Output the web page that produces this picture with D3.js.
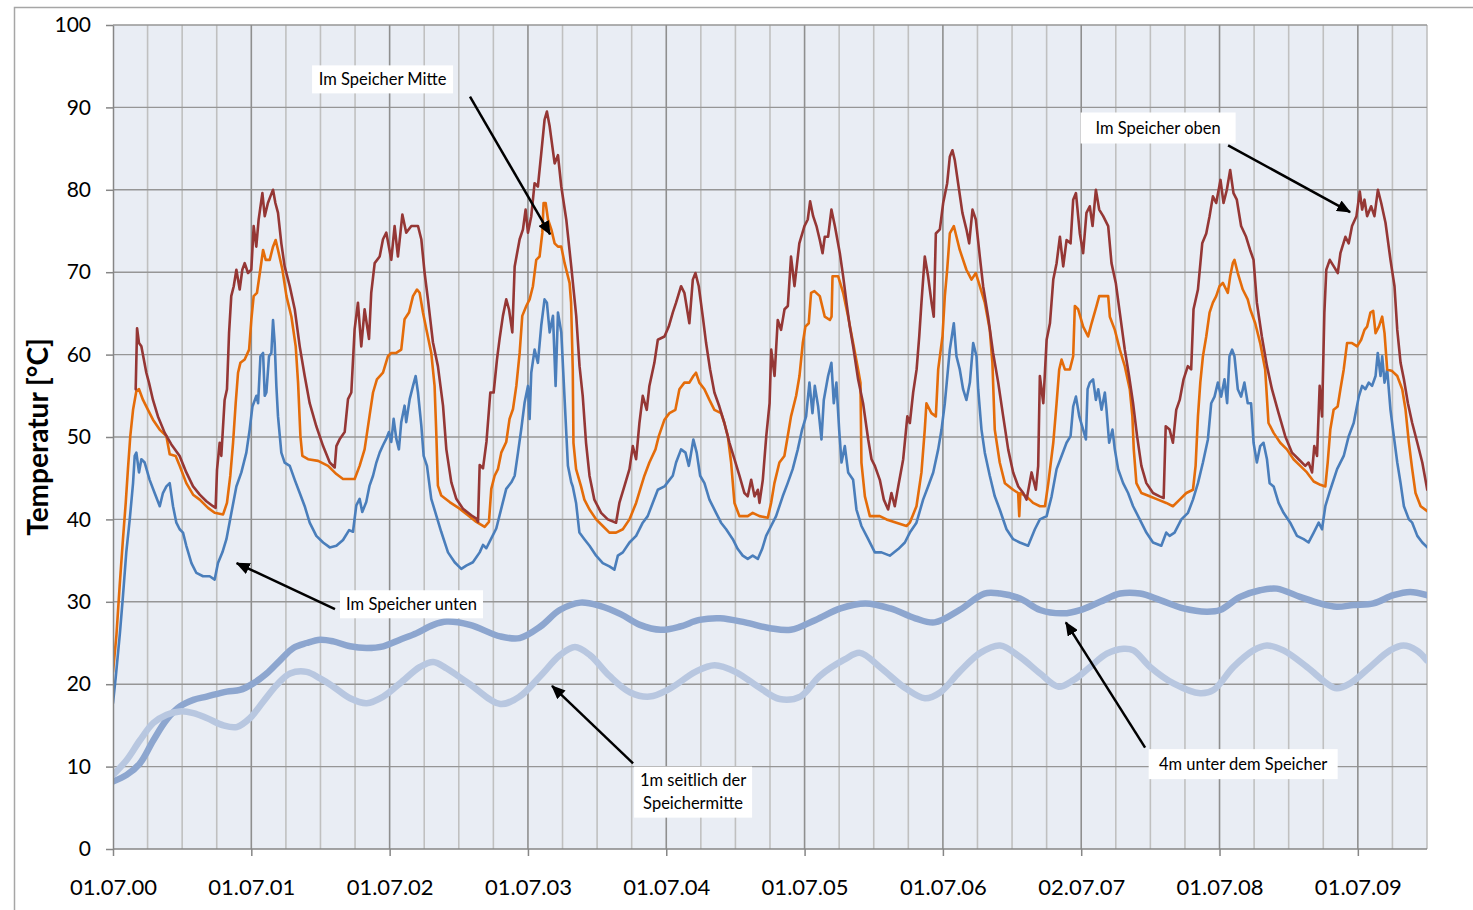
<!DOCTYPE html>
<meta charset="utf-8">

<style>

body {
  margin: 0;
  background: #fff;
}

text {
  font-family: Lato, "Open Sans", sans-serif;
  fill: #000;
}

.frame {
  fill: none;
  stroke: #a6a6a6;
  stroke-width: 1.5px;
}

.plotbg {
  fill: #e9edf4;
}

.grid-q {
  stroke: #c0c0c0;
  stroke-width: 1.6px;
}

.grid-y {
  stroke: #8f8f8f;
  stroke-width: 1.6px;
}

.grid-h {
  stroke: #969696;
  stroke-width: 1.4px;
}

.axis path, .axis line {
  stroke: #868686;
  stroke-width: 1.5px;
}

.axis text {
  font-size: 21px;
}

.axis.x text {
  font-size: 22px;
}

.series {
  fill: none;
  stroke-linejoin: round;
  stroke-linecap: round;
}

.note rect {
  fill: #fff;
}

.note text {
  font-size: 16.5px;
}

.arrow {
  stroke: #000;
  stroke-width: 2.5px;
}

</style>

<body>

<svg id="chart" width="1473" height="910"></svg>

<script src="https://cdn.jsdelivr.net/npm/d3@7"></script>
<script>

// x in Jahren ab 01.07.2000, y in °C
const yearTicks = [0, 1, 2, 3, 4, 5, 6, 7, 8, 9]
const yearLabels = ["01.07.00", "01.07.01", "01.07.02", "01.07.03", "01.07.04",
                    "01.07.05", "01.07.06", "02.07.07", "01.07.08", "01.07.09"]
const tempTicks = [0, 10, 20, 30, 40, 50, 60, 70, 80, 90, 100]

const speicherOben = [[0.164,55.8],[0.174,63.2],[0.188,61.4],[0.205,61.0],[0.241,57.8],[0.26,56.6],[0.289,54.5],[0.325,52.5],[0.374,50.5],[0.422,49.1],[0.482,47.7],[0.53,45.7],[0.579,44.0],[0.627,43.0],[0.675,42.2],[0.723,41.6],[0.742,41.4],[0.752,46.0],[0.771,49.3],[0.783,47.7],[0.807,54.5],[0.824,55.8],[0.839,62.6],[0.855,67.1],[0.873,68.3],[0.892,70.3],[0.916,67.9],[0.935,70.3],[0.952,71.1],[0.976,69.9],[1.0,70.3],[1.017,75.6],[1.036,73.1],[1.053,76.4],[1.08,79.6],[1.097,76.8],[1.12,78.4],[1.138,79.2],[1.157,80.0],[1.174,78.4],[1.193,77.2],[1.217,73.5],[1.241,70.7],[1.278,68.3],[1.314,65.5],[1.35,61.0],[1.386,57.4],[1.422,54.1],[1.47,51.3],[1.519,48.9],[1.567,46.9],[1.603,46.3],[1.615,48.9],[1.641,49.8],[1.675,50.6],[1.699,54.6],[1.723,55.4],[1.747,63.1],[1.771,66.3],[1.795,61.0],[1.819,65.5],[1.851,61.9],[1.867,67.5],[1.892,71.1],[1.928,71.9],[1.952,74.0],[1.976,74.8],[2.012,71.5],[2.036,75.6],[2.06,71.9],[2.092,77.0],[2.12,74.8],[2.157,75.6],[2.205,75.6],[2.229,74.0],[2.253,69.9],[2.277,66.7],[2.313,61.5],[2.349,58.6],[2.386,53.8],[2.41,48.5],[2.446,44.5],[2.482,42.5],[2.53,41.3],[2.59,40.5],[2.627,40.1],[2.639,39.7],[2.651,46.6],[2.675,46.2],[2.7,49.4],[2.728,55.4],[2.752,55.4],[2.776,59.4],[2.795,61.9],[2.819,64.7],[2.843,66.7],[2.863,65.5],[2.887,62.7],[2.904,70.7],[2.94,74.0],[2.964,75.2],[2.983,77.6],[3.0,74.8],[3.024,76.8],[3.048,80.8],[3.072,80.4],[3.096,84.4],[3.12,88.5],[3.137,89.5],[3.157,87.7],[3.193,83.2],[3.217,84.2],[3.241,80.4],[3.277,76.4],[3.313,70.7],[3.349,64.7],[3.373,58.6],[3.396,55.0],[3.42,49.3],[3.445,45.3],[3.48,42.4],[3.529,40.8],[3.577,40.0],[3.637,39.6],[3.661,42.0],[3.697,44.0],[3.734,46.1],[3.758,48.9],[3.782,47.3],[3.806,51.7],[3.83,55.0],[3.859,53.3],[3.878,56.2],[3.914,59.0],[3.939,61.8],[3.987,62.2],[4.018,63.4],[4.047,65.1],[4.071,66.3],[4.107,68.3],[4.131,67.5],[4.167,63.8],[4.192,69.1],[4.211,69.9],[4.235,68.3],[4.264,64.6],[4.288,61.4],[4.317,58.2],[4.348,55.4],[4.384,53.7],[4.42,51.7],[4.457,49.3],[4.493,47.3],[4.529,45.3],[4.565,43.2],[4.589,42.8],[4.614,44.8],[4.638,42.8],[4.662,43.6],[4.674,42.0],[4.698,44.8],[4.723,50.1],[4.747,54.1],[4.759,60.6],[4.783,57.4],[4.806,64.2],[4.83,63.0],[4.855,65.5],[4.879,65.9],[4.902,71.9],[4.927,68.3],[4.962,73.5],[4.999,75.6],[5.023,76.4],[5.04,78.6],[5.062,76.8],[5.086,75.6],[5.11,73.9],[5.13,72.3],[5.146,74.3],[5.17,74.3],[5.194,77.6],[5.219,75.6],[5.255,72.3],[5.279,69.5],[5.303,66.3],[5.327,63.4],[5.351,61.0],[5.387,57.0],[5.423,54.1],[5.46,49.7],[5.484,47.3],[5.508,46.5],[5.544,44.8],[5.573,42.4],[5.604,41.2],[5.628,43.2],[5.652,41.6],[5.677,44.0],[5.713,47.3],[5.743,52.5],[5.761,51.7],[5.785,55.4],[5.81,58.2],[5.829,62.2],[5.845,66.3],[5.869,71.9],[5.893,69.5],[5.918,66.3],[5.934,64.6],[5.949,74.7],[5.978,75.2],[6.002,78.4],[6.031,80.8],[6.05,84.0],[6.069,84.8],[6.086,83.6],[6.11,80.8],[6.141,77.2],[6.17,75.2],[6.19,73.5],[6.214,77.6],[6.238,76.4],[6.267,71.9],[6.291,68.3],[6.327,64.6],[6.363,60.2],[6.4,56.6],[6.436,52.5],[6.472,48.5],[6.508,45.7],[6.545,44.0],[6.581,43.2],[6.605,42.4],[6.641,45.7],[6.672,43.6],[6.689,46.5],[6.701,57.4],[6.726,54.1],[6.75,61.8],[6.774,63.8],[6.798,69.1],[6.822,71.1],[6.846,74.3],[6.87,70.7],[6.894,73.9],[6.923,73.5],[6.942,78.8],[6.962,79.6],[6.99,74.7],[7.014,72.3],[7.038,77.2],[7.062,78.0],[7.082,75.6],[7.106,80.0],[7.13,77.6],[7.159,76.8],[7.195,75.6],[7.219,71.1],[7.25,68.7],[7.279,65.1],[7.315,60.6],[7.346,57.4],[7.375,54.1],[7.404,50.1],[7.435,46.5],[7.471,44.4],[7.519,43.2],[7.567,42.8],[7.596,42.6],[7.611,51.3],[7.639,50.9],[7.663,49.3],[7.687,53.3],[7.712,54.5],[7.74,57.0],[7.771,58.6],[7.795,58.2],[7.812,65.5],[7.844,67.9],[7.875,73.5],[7.904,74.7],[7.928,76.8],[7.952,79.2],[7.976,78.4],[8.007,81.2],[8.029,78.4],[8.053,80.0],[8.077,82.4],[8.101,79.6],[8.125,78.8],[8.156,75.6],[8.192,74.3],[8.221,72.7],[8.246,71.5],[8.27,66.3],[8.306,62.2],[8.343,58.6],[8.379,55.8],[8.427,52.9],[8.475,50.1],[8.524,48.1],[8.572,47.3],[8.62,46.5],[8.644,46.9],[8.669,45.7],[8.685,48.9],[8.705,47.7],[8.724,56.2],[8.741,52.5],[8.758,65.1],[8.772,70.3],[8.797,71.5],[8.826,70.7],[8.855,69.9],[8.874,72.3],[8.91,74.3],[8.934,73.5],[8.958,75.6],[8.99,76.8],[9.014,79.8],[9.031,77.6],[9.048,78.8],[9.067,76.8],[9.096,78.0],[9.12,76.8],[9.145,80.0],[9.169,78.4],[9.2,76.0],[9.236,71.5],[9.265,68.3],[9.285,63.0],[9.309,59.0],[9.333,57.0],[9.362,54.1],[9.393,51.7],[9.43,49.3],[9.466,46.9],[9.502,43.6]]

const speicherMitte = [[0.0,21.5],[0.025,26.0],[0.048,31.9],[0.072,37.6],[0.092,42.0],[0.108,46.1],[0.125,50.1],[0.145,53.3],[0.169,55.6],[0.188,55.8],[0.217,54.5],[0.253,53.3],[0.289,52.1],[0.337,50.9],[0.386,50.1],[0.41,47.9],[0.453,47.7],[0.482,46.5],[0.53,44.4],[0.579,43.0],[0.627,42.4],[0.687,41.4],[0.735,40.8],[0.796,40.6],[0.824,42.0],[0.848,45.3],[0.868,49.3],[0.887,54.1],[0.904,57.8],[0.921,59.0],[0.952,59.4],[0.984,60.6],[1.0,64.2],[1.017,67.1],[1.041,67.5],[1.065,70.3],[1.085,72.7],[1.104,71.5],[1.133,71.5],[1.157,73.1],[1.176,73.9],[1.193,72.7],[1.225,70.3],[1.254,67.1],[1.29,64.6],[1.321,61.0],[1.338,56.6],[1.355,50.1],[1.369,47.7],[1.41,47.3],[1.483,47.1],[1.555,46.5],[1.615,45.5],[1.663,44.9],[1.747,44.9],[1.783,46.5],[1.819,48.5],[1.855,52.6],[1.88,55.4],[1.908,57.0],[1.952,57.8],[1.988,59.8],[2.012,60.2],[2.048,60.2],[2.084,60.6],[2.108,64.3],[2.14,65.1],[2.169,67.1],[2.198,67.9],[2.217,67.5],[2.241,65.1],[2.27,62.7],[2.301,60.2],[2.325,56.2],[2.337,50.6],[2.349,44.1],[2.373,42.9],[2.434,42.1],[2.506,41.3],[2.566,40.5],[2.627,39.7],[2.687,39.1],[2.718,39.7],[2.735,43.7],[2.759,45.3],[2.783,46.1],[2.807,48.1],[2.843,49.4],[2.867,52.2],[2.892,53.4],[2.916,56.2],[2.94,60.2],[2.959,64.7],[2.988,65.9],[3.012,66.7],[3.036,68.3],[3.06,71.5],[3.084,71.9],[3.104,74.8],[3.113,78.4],[3.128,78.4],[3.145,76.4],[3.169,75.2],[3.193,73.5],[3.217,73.1],[3.241,73.1],[3.265,71.1],[3.301,68.7],[3.312,66.3],[3.324,58.2],[3.329,49.3],[3.348,46.1],[3.384,44.0],[3.408,42.4],[3.445,41.2],[3.493,40.0],[3.541,39.2],[3.589,38.4],[3.637,38.4],[3.686,38.8],[3.734,40.0],[3.782,42.0],[3.818,44.0],[3.842,45.3],[3.878,46.9],[3.922,48.5],[3.946,50.1],[3.987,52.1],[4.023,52.9],[4.066,53.3],[4.095,55.8],[4.131,56.6],[4.167,56.6],[4.196,57.4],[4.215,57.8],[4.239,56.6],[4.276,55.8],[4.312,54.5],[4.348,53.3],[4.396,52.9],[4.42,51.7],[4.445,50.1],[4.469,46.9],[4.493,42.0],[4.529,40.4],[4.589,40.4],[4.625,40.8],[4.674,40.4],[4.734,40.2],[4.758,42.0],[4.782,44.4],[4.818,46.9],[4.854,47.7],[4.878,50.1],[4.902,52.5],[4.939,55.0],[4.963,57.4],[4.987,61.4],[5.006,63.4],[5.03,63.8],[5.047,67.5],[5.071,67.7],[5.11,67.1],[5.146,64.6],[5.183,64.2],[5.195,64.6],[5.202,69.5],[5.243,69.5],[5.279,67.5],[5.315,64.6],[5.351,61.4],[5.387,58.2],[5.404,56.6],[5.411,46.9],[5.436,42.8],[5.472,40.4],[5.544,40.4],[5.592,40.0],[5.664,39.6],[5.737,39.2],[5.761,39.6],[5.809,41.6],[5.845,45.7],[5.869,50.9],[5.881,54.1],[5.917,52.9],[5.949,52.5],[5.966,58.2],[5.997,62.2],[6.014,67.1],[6.031,70.3],[6.05,74.7],[6.079,75.6],[6.122,72.7],[6.17,70.3],[6.207,69.1],[6.238,69.9],[6.267,68.3],[6.303,66.3],[6.339,63.0],[6.358,59.0],[6.375,50.9],[6.411,46.9],[6.448,44.4],[6.508,43.6],[6.544,43.2],[6.552,40.4],[6.56,43.2],[6.604,42.8],[6.652,42.0],[6.702,41.6],[6.738,41.6],[6.762,44.4],[6.798,49.3],[6.822,54.1],[6.841,58.2],[6.858,59.4],[6.882,58.2],[6.918,58.2],[6.942,59.8],[6.954,65.9],[6.978,65.5],[7.014,63.4],[7.05,62.2],[7.075,63.8],[7.111,65.9],[7.13,67.1],[7.195,67.1],[7.207,64.6],[7.243,63.0],[7.279,60.6],[7.315,58.6],[7.351,55.8],[7.37,52.5],[7.38,48.5],[7.399,44.4],[7.435,43.2],[7.495,42.8],[7.555,42.4],[7.615,42.0],[7.663,41.6],[7.712,42.4],[7.76,43.2],[7.808,43.6],[7.827,46.5],[7.844,52.5],[7.861,56.6],[7.88,59.8],[7.904,62.2],[7.928,65.1],[7.952,66.3],[7.976,67.1],[8.0,68.3],[8.024,68.7],[8.048,67.9],[8.06,67.5],[8.077,69.5],[8.096,71.1],[8.108,71.5],[8.132,69.9],[8.168,67.9],[8.204,66.7],[8.222,65.5],[8.258,63.8],[8.294,61.4],[8.33,58.2],[8.354,51.7],[8.391,50.5],[8.439,49.3],[8.487,48.5],[8.535,47.3],[8.584,46.5],[8.632,45.7],[8.681,44.6],[8.729,44.2],[8.765,44.0],[8.782,46.9],[8.801,50.9],[8.825,53.3],[8.854,53.7],[8.874,55.8],[8.898,58.2],[8.922,61.4],[8.958,61.4],[8.995,61.0],[9.024,61.8],[9.048,63.0],[9.067,63.4],[9.091,65.1],[9.111,65.3],[9.128,62.6],[9.152,63.4],[9.176,64.6],[9.193,62.6],[9.212,58.2],[9.248,58.0],[9.285,57.4],[9.321,55.8],[9.345,53.3],[9.369,49.3],[9.393,46.1],[9.417,43.2],[9.454,41.6],[9.502,41.0]]

const speicherUnten = [[0.0,17.7],[0.02,20.9],[0.05,26.2],[0.072,30.7],[0.096,36.0],[0.121,40.0],[0.145,44.4],[0.157,47.7],[0.169,48.1],[0.188,45.7],[0.205,47.3],[0.229,46.9],[0.265,44.8],[0.301,43.2],[0.338,41.6],[0.361,43.2],[0.386,44.0],[0.41,44.4],[0.434,41.6],[0.458,39.6],[0.482,38.8],[0.506,38.4],[0.53,36.8],[0.567,34.7],[0.603,33.5],[0.651,33.1],[0.699,33.1],[0.735,32.7],[0.759,34.7],[0.791,36.0],[0.82,37.6],[0.856,40.8],[0.892,44.0],[0.928,45.7],[0.964,48.1],[0.988,50.9],[1.008,53.7],[1.037,55.0],[1.049,54.1],[1.066,59.8],[1.085,60.2],[1.097,55.0],[1.109,55.4],[1.128,59.8],[1.145,60.2],[1.157,64.2],[1.169,61.4],[1.181,56.2],[1.193,52.5],[1.217,48.1],[1.241,46.9],[1.278,46.5],[1.314,44.8],[1.35,43.2],[1.386,41.6],[1.422,39.6],[1.47,38.0],[1.519,37.2],[1.567,36.6],[1.615,36.8],[1.663,37.5],[1.707,38.7],[1.735,38.5],[1.759,41.7],[1.783,42.5],[1.802,40.9],[1.831,42.1],[1.855,44.1],[1.88,45.3],[1.904,46.9],[1.928,48.1],[1.952,49.0],[1.976,49.8],[1.995,50.6],[2.012,49.4],[2.029,52.2],[2.048,49.8],[2.067,48.5],[2.084,51.8],[2.108,53.8],[2.12,51.8],[2.145,54.6],[2.169,56.2],[2.188,57.4],[2.205,55.4],[2.229,51.4],[2.246,47.7],[2.27,46.5],[2.301,42.5],[2.337,40.5],[2.373,38.5],[2.422,36.0],[2.47,34.8],[2.518,34.0],[2.554,34.4],[2.602,34.8],[2.651,36.0],[2.675,36.9],[2.699,36.5],[2.735,37.7],[2.771,38.9],[2.807,41.3],[2.843,43.7],[2.88,44.5],[2.904,45.3],[2.928,48.1],[2.952,51.0],[2.976,54.2],[3.0,56.2],[3.012,52.2],[3.024,57.8],[3.048,60.6],[3.072,59.0],[3.096,63.5],[3.12,66.7],[3.137,66.3],[3.157,62.7],[3.181,64.7],[3.2,56.2],[3.217,65.1],[3.241,62.7],[3.265,54.6],[3.289,46.5],[3.313,44.5],[3.324,44.0],[3.348,42.0],[3.372,38.4],[3.408,37.6],[3.445,36.8],[3.493,35.6],[3.541,34.7],[3.589,34.3],[3.625,33.9],[3.65,35.6],[3.686,36.0],[3.734,37.2],[3.782,38.0],[3.83,39.6],[3.866,40.4],[3.902,42.0],[3.939,43.6],[3.987,44.0],[4.023,44.8],[4.047,45.3],[4.071,46.9],[4.107,48.5],[4.139,48.1],[4.163,46.5],[4.172,47.3],[4.196,49.7],[4.22,48.1],[4.245,45.3],[4.276,44.4],[4.312,42.4],[4.36,40.8],[4.396,39.6],[4.433,38.8],[4.481,37.6],[4.517,36.4],[4.553,35.6],[4.589,35.2],[4.625,35.6],[4.662,35.2],[4.693,36.4],[4.722,38.0],[4.758,39.2],[4.794,40.4],[4.842,42.8],[4.878,44.4],[4.914,46.1],[4.951,48.5],[4.982,50.9],[5.011,52.5],[5.035,56.6],[5.057,52.9],[5.074,56.2],[5.098,53.7],[5.122,49.7],[5.139,54.5],[5.17,57.4],[5.194,59.0],[5.211,54.1],[5.23,56.6],[5.25,50.9],[5.267,46.9],[5.291,48.9],[5.315,45.7],[5.351,44.8],[5.375,41.2],[5.411,39.2],[5.46,37.6],[5.508,36.0],[5.556,36.0],[5.616,35.6],[5.677,36.4],[5.725,37.2],[5.761,38.4],[5.809,39.6],[5.857,42.4],[5.893,44.0],[5.93,45.7],[5.966,48.5],[5.99,50.9],[6.014,54.1],[6.05,60.6],[6.079,63.8],[6.098,59.8],[6.122,58.2],[6.146,55.8],[6.17,54.5],[6.195,56.6],[6.219,61.4],[6.243,59.8],[6.255,55.8],[6.279,50.9],[6.303,48.1],[6.339,45.3],[6.375,42.8],[6.411,41.2],[6.46,38.8],[6.508,37.6],[6.556,37.2],[6.616,36.8],[6.665,38.8],[6.701,40.0],[6.75,40.4],[6.786,42.8],[6.822,46.1],[6.858,47.7],[6.894,49.3],[6.923,50.1],[6.942,53.7],[6.962,54.9],[6.986,52.5],[7.014,50.9],[7.034,49.7],[7.046,55.8],[7.062,56.6],[7.086,57.0],[7.106,54.5],[7.123,55.8],[7.147,53.3],[7.171,55.4],[7.183,53.3],[7.202,49.3],[7.226,50.9],[7.243,48.5],[7.267,46.1],[7.303,44.4],[7.339,43.2],[7.375,41.6],[7.423,40.0],[7.471,38.4],[7.519,37.2],[7.579,36.8],[7.615,38.4],[7.639,38.0],[7.675,38.4],[7.724,40.0],[7.772,40.8],[7.808,42.4],[7.844,44.4],[7.88,46.9],[7.916,49.7],[7.94,54.1],[7.964,54.9],[7.988,56.6],[8.012,54.9],[8.036,57.0],[8.055,54.1],[8.072,59.8],[8.091,60.6],[8.108,59.8],[8.132,55.8],[8.156,54.9],[8.18,56.6],[8.204,54.1],[8.228,54.1],[8.246,49.3],[8.27,46.9],[8.294,48.9],[8.318,49.3],[8.343,47.3],[8.362,44.4],[8.391,44.0],[8.427,42.0],[8.463,40.8],[8.511,39.6],[8.56,38.0],[8.608,37.6],[8.644,37.2],[8.681,38.4],[8.717,39.6],[8.741,38.8],[8.765,41.6],[8.801,43.6],[8.85,46.1],[8.898,47.7],[8.934,50.1],[8.97,51.7],[9.007,54.9],[9.031,56.2],[9.055,55.8],[9.079,56.6],[9.103,56.2],[9.128,57.4],[9.144,60.2],[9.164,57.4],[9.176,59.8],[9.193,56.6],[9.212,58.2],[9.236,53.3],[9.26,50.1],[9.285,46.9],[9.309,44.4],[9.333,41.6],[9.369,40.0],[9.393,39.6],[9.43,38.0],[9.466,37.2],[9.502,36.6]]

const unterSpeicher4m = [[0.0,8.2],[0.099,9.0],[0.195,10.4],[0.292,13.2],[0.388,15.7],[0.484,17.3],[0.581,18.1],[0.677,18.5],[0.822,19.1],[0.918,19.3],[1.014,20.1],[1.111,21.3],[1.208,22.9],[1.304,24.4],[1.4,25.0],[1.497,25.4],[1.593,25.2],[1.714,24.6],[1.834,24.4],[1.954,24.6],[2.075,25.4],[2.196,26.2],[2.316,27.2],[2.413,27.6],[2.58,27.2],[2.8,25.8],[2.94,25.6],[3.09,27.0],[3.23,29.0],[3.38,29.9],[3.52,29.5],[3.67,28.5],[3.81,27.2],[3.96,26.6],[4.1,27.0],[4.24,27.8],[4.39,28.0],[4.57,27.5],[4.75,26.8],[4.9,26.6],[5.08,27.8],[5.26,29.2],[5.44,29.8],[5.62,29.2],[5.8,28.0],[5.94,27.5],[6.12,29.0],[6.3,31.0],[6.414,31.0],[6.558,30.4],[6.703,29.0],[6.871,28.6],[6.992,29.0],[7.137,30.0],[7.281,31.0],[7.426,31.0],[7.571,30.2],[7.739,29.2],[7.908,28.8],[8.004,29.0],[8.149,30.6],[8.293,31.4],[8.414,31.6],[8.582,30.6],[8.727,29.8],[8.847,29.4],[8.968,29.6],[9.113,29.8],[9.257,30.8],[9.378,31.2],[9.499,30.8]]

const seitlich1m = [[0.0,9.0],[0.099,10.8],[0.195,13.2],[0.292,15.3],[0.388,16.3],[0.484,16.7],[0.581,16.5],[0.677,15.9],[0.798,15.0],[0.894,14.8],[0.991,15.9],[1.087,17.9],[1.184,19.9],[1.28,21.3],[1.4,21.5],[1.497,20.7],[1.593,19.7],[1.714,18.3],[1.834,17.7],[1.954,18.5],[2.075,20.1],[2.22,22.1],[2.316,22.7],[2.413,21.9],[2.58,20.0],[2.8,17.6],[2.94,18.5],[3.09,21.0],[3.23,23.5],[3.34,24.5],[3.45,23.5],[3.59,21.0],[3.74,19.0],[3.88,18.5],[4.03,19.5],[4.21,21.5],[4.35,22.3],[4.5,21.5],[4.68,19.5],[4.82,18.2],[4.97,18.5],[5.11,21.0],[5.29,23.0],[5.4,23.8],[5.55,22.0],[5.73,19.5],[5.87,18.3],[5.98,19.0],[6.12,21.5],[6.27,23.8],[6.414,24.7],[6.558,23.3],[6.703,21.3],[6.836,19.7],[6.944,20.5],[7.065,22.1],[7.185,23.7],[7.306,24.3],[7.378,24.1],[7.498,22.1],[7.667,20.1],[7.86,18.9],[7.956,19.3],[8.101,22.1],[8.245,24.1],[8.342,24.7],[8.462,24.1],[8.631,22.1],[8.776,20.1],[8.847,19.5],[8.944,20.1],[9.089,22.1],[9.233,24.1],[9.33,24.7],[9.426,24.1],[9.499,22.9]]

// Beschriftungen: Mittelpunkt, Boxgröße, Pfeil von -> nach (Datenkoordinaten)
const notes = [
  {lines: ["Im Speicher Mitte"], at: [1.949, 93.4], w: 141, h: 28, from: [2.581, 91.3], to: [3.16, 74.6]},
  {lines: ["Im Speicher oben"], at: [7.556, 87.5], w: 155, h: 31, from: [8.062, 85.4], to: [8.944, 77.3]},
  {lines: ["Im Speicher unten"], at: [2.158, 29.7], w: 143, h: 28, from: [1.605, 29.1], to: [0.894, 34.7]},
  {lines: ["1m seitlich der", "Speichermitte"], at: [4.194, 6.9], w: 118, h: 51, from: [3.76, 10.4], to: [3.174, 19.8]},
  {lines: ["4m unter dem Speicher"], at: [8.171, 10.3], w: 189, h: 30, from: [7.462, 12.3], to: [6.889, 27.5]}
]

const width = 1473
const height = 910
const margin = {top: 25, right: 46, bottom: 61, left: 113}

const svg = d3.select("#chart")

const x = d3.scaleLinear().domain([0, 9.5]).range([margin.left, width - margin.right])
const y = d3.scaleLinear().domain([0, 100]).range([height - margin.bottom, margin.top])

// Rahmen des Diagrammbereichs
svg.append("rect").attr("class", "frame")
    .attr("x", 14.5).attr("y", 7.5).attr("width", 1480).attr("height", 920)

svg.append("rect").attr("class", "plotbg")
    .attr("x", x(0)).attr("y", y(100))
    .attr("width", x(9.5) - x(0)).attr("height", y(0) - y(100))

const quarters = d3.range(1, 39).map(d => d / 4)

svg.append("g")
  .selectAll("line")
  .data(quarters.filter(d => d % 1 !== 0))
  .join("line")
    .attr("class", "grid-q")
    .attr("x1", d => x(d)).attr("x2", d => x(d))
    .attr("y1", y(100)).attr("y2", y(0))

svg.append("g")
  .selectAll("line")
  .data(tempTicks.filter(d => d > 0))
  .join("line")
    .attr("class", "grid-h")
    .attr("x1", x(0)).attr("x2", x(9.5))
    .attr("y1", d => y(d)).attr("y2", d => y(d))

svg.append("g")
  .selectAll("line")
  .data(yearTicks.filter(d => d > 0))
  .join("line")
    .attr("class", "grid-y")
    .attr("x1", d => x(d)).attr("x2", d => x(d))
    .attr("y1", y(100)).attr("y2", y(0))

svg.append("clipPath").attr("id", "clip")
  .append("rect")
    .attr("x", x(0)).attr("y", y(100))
    .attr("width", x(9.5) - x(0)).attr("height", y(0) - y(100))

const line = d3.line().x(d => x(d[0])).y(d => y(d[1]))
const smooth = d3.line().x(d => x(d[0])).y(d => y(d[1])).curve(d3.curveCatmullRom)

const series = [
  {data: unterSpeicher4m, gen: smooth, color: "#8da6cf", w: 6.5},
  {data: seitlich1m, gen: smooth, color: "#b8c7e0", w: 6.5},
  {data: speicherUnten, gen: line, color: "#4a7ebb", w: 2.6},
  {data: speicherMitte, gen: line, color: "#e46c0a", w: 2.6},
  {data: speicherOben, gen: line, color: "#953735", w: 2.6}
]

svg.append("g").attr("clip-path", "url(#clip)")
  .selectAll("path")
  .data(series)
  .join("path")
    .attr("class", "series")
    .attr("d", d => d.gen(d.data))
    .attr("stroke", d => d.color)
    .attr("stroke-width", d => d.w)

// Achsen
const yAxis = svg.append("g").attr("class", "axis")
    .attr("transform", `translate(${x(0)},0)`)
    .call(d3.axisLeft(y).tickValues(tempTicks).tickSize(7).tickSizeOuter(0).tickPadding(15))

const xAxis = svg.append("g").attr("class", "axis x")
    .attr("transform", `translate(0,${y(0)})`)
    .call(d3.axisBottom(x).tickValues(yearTicks).tickSize(7).tickSizeOuter(0).tickPadding(23)
      .tickFormat((d, i) => yearLabels[i]))
xAxis.select(".domain").attr("d", `M${x(0)},0H${x(9.5)}`)

svg.append("text")
    .attr("transform", `translate(48,${(y(0) + y(100)) / 2}) rotate(-90)`)
    .attr("text-anchor", "middle")
    .style("font-size", "28px")
    .style("font-weight", "bold")
    .text("Temperatur [°C]")

// Pfeile und Beschriftungen
svg.append("defs").append("marker")
    .attr("id", "head")
    .attr("markerUnits", "userSpaceOnUse")
    .attr("markerWidth", 14).attr("markerHeight", 12)
    .attr("refX", 13).attr("refY", 6)
    .attr("orient", "auto")
  .append("path")
    .attr("d", "M0,0L14,6L0,12Z")
    .attr("fill", "#000")

svg.append("g")
  .selectAll("line")
  .data(notes)
  .join("line")
    .attr("class", "arrow")
    .attr("x1", d => x(d.from[0])).attr("y1", d => y(d.from[1]))
    .attr("x2", d => x(d.to[0])).attr("y2", d => y(d.to[1]))
    .attr("marker-end", "url(#head)")

const note = svg.append("g")
  .selectAll("g")
  .data(notes)
  .join("g")
    .attr("class", "note")
    .attr("transform", d => `translate(${x(d.at[0])},${y(d.at[1])})`)

note.append("rect")
    .attr("x", d => -d.w / 2).attr("y", d => -d.h / 2)
    .attr("width", d => d.w).attr("height", d => d.h)

note.append("text")
    .attr("text-anchor", "middle")
  .selectAll("tspan")
  .data(d => d.lines.map((s, i) => ({s, i, n: d.lines.length})))
  .join("tspan")
    .attr("x", 0)
    .attr("y", d => (d.i - (d.n - 1) / 2) * 23)
    .attr("dy", "0.35em")
    .text(d => d.s)

</script>
